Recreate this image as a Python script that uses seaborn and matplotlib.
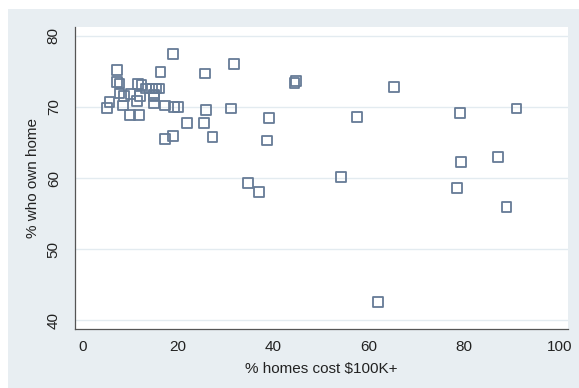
import numpy as np
import pandas as pd
import matplotlib
matplotlib.use("Agg")
import matplotlib.pyplot as plt
import seaborn as sns

# data
pct_cost_100k = [5.0, 5.6, 7.2, 7.1, 7.7, 7.7, 8.6, 8.5, 9.9, 11.8,
                 10.0, 11.4, 11.6, 12.3, 12.0, 13.3, 14.5, 15.4, 14.9, 15.0,
                 14.9, 16.0, 16.3, 17.2, 17.2, 18.9, 18.9, 19.2, 19.9, 21.9,
                 25.6, 25.5, 25.8, 27.2, 31.8, 31.1, 34.6, 36.9, 39.1, 38.7,
                 44.4, 44.8, 54.1, 57.6, 62.0, 65.3, 78.5, 79.1, 79.3, 87.1,
                 88.9, 91.0]
pct_own_home = [69.9, 70.7, 75.2, 73.5, 73.3, 71.9, 71.5, 70.2, 68.9, 68.9,
                71.8, 70.8, 73.2, 73.1, 71.5, 72.6, 72.6, 72.6, 71.5, 71.7,
                70.6, 72.6, 74.9, 70.2, 65.5, 77.5, 65.9, 70.0, 70.0, 67.8,
                74.7, 67.8, 69.6, 65.8, 76.0, 69.8, 59.3, 58.0, 68.5, 65.3,
                73.4, 73.6, 60.2, 68.6, 42.6, 72.8, 58.6, 69.2, 62.3, 63.0,
                55.9, 69.8]

x_ticks = [0, 20, 40, 60, 80, 100]
y_ticks = [40, 50, 60, 70, 80]

df = pd.DataFrame({"cost": pct_cost_100k, "own": pct_own_home})

bg = "#e8eef2"
marker_col = "#667b96"

sns.set_style("white")
plt.rcParams["font.family"] = ["Liberation Sans", "DejaVu Sans"]

fig = plt.figure(figsize=(5.79, 3.88), dpi=100)
fig.patch.set_facecolor("white")
# bluish-gray graph region (Stata style), kept behind the axes
region = plt.Rectangle((8.3 / 579, 0), 1, 1 - 9.3 / 388,
                       transform=fig.transFigure,
                       facecolor=bg, edgecolor="none", zorder=-10)
fig.patches.append(region)

ax = fig.add_axes([74.7 / 579, 1 - 329 / 388, (568 - 74.7) / 579, (329 - 27.3) / 388])
ax.set_zorder(1)
ax.set_facecolor("white")

sns.scatterplot(data=df, x="cost", y="own", marker="s", s=50,
                facecolor="none", edgecolor=marker_col, linewidth=1.3,
                ax=ax, zorder=3)

ax.set_xlim(-1.7, 101.8)
ax.set_ylim(38.8, 81.2)
ax.set_xticks(x_ticks)
ax.set_yticks(y_ticks)
ax.yaxis.grid(True, color="#e3ebf0", linewidth=1.0)
ax.set_axisbelow(True)

for side in ["top", "right"]:
    ax.spines[side].set_visible(False)
for side in ["left", "bottom"]:
    ax.spines[side].set_color("#555555")
    ax.spines[side].set_linewidth(0.9)

ax.tick_params(axis="both", direction="out", length=5, width=0.8,
               color="#555555", labelsize=11, labelcolor="#222222")
ax.tick_params(axis="x", pad=3)
ax.tick_params(axis="y", pad=5)
plt.setp(ax.get_yticklabels(), rotation=90, va="center")

ax.set_xlabel("% homes cost $100K+", fontsize=11, color="#222222", labelpad=6)
ax.set_ylabel("% who own home", fontsize=11, color="#222222", labelpad=5)

fig.savefig("out.png", dpi=100, facecolor=fig.get_facecolor())
